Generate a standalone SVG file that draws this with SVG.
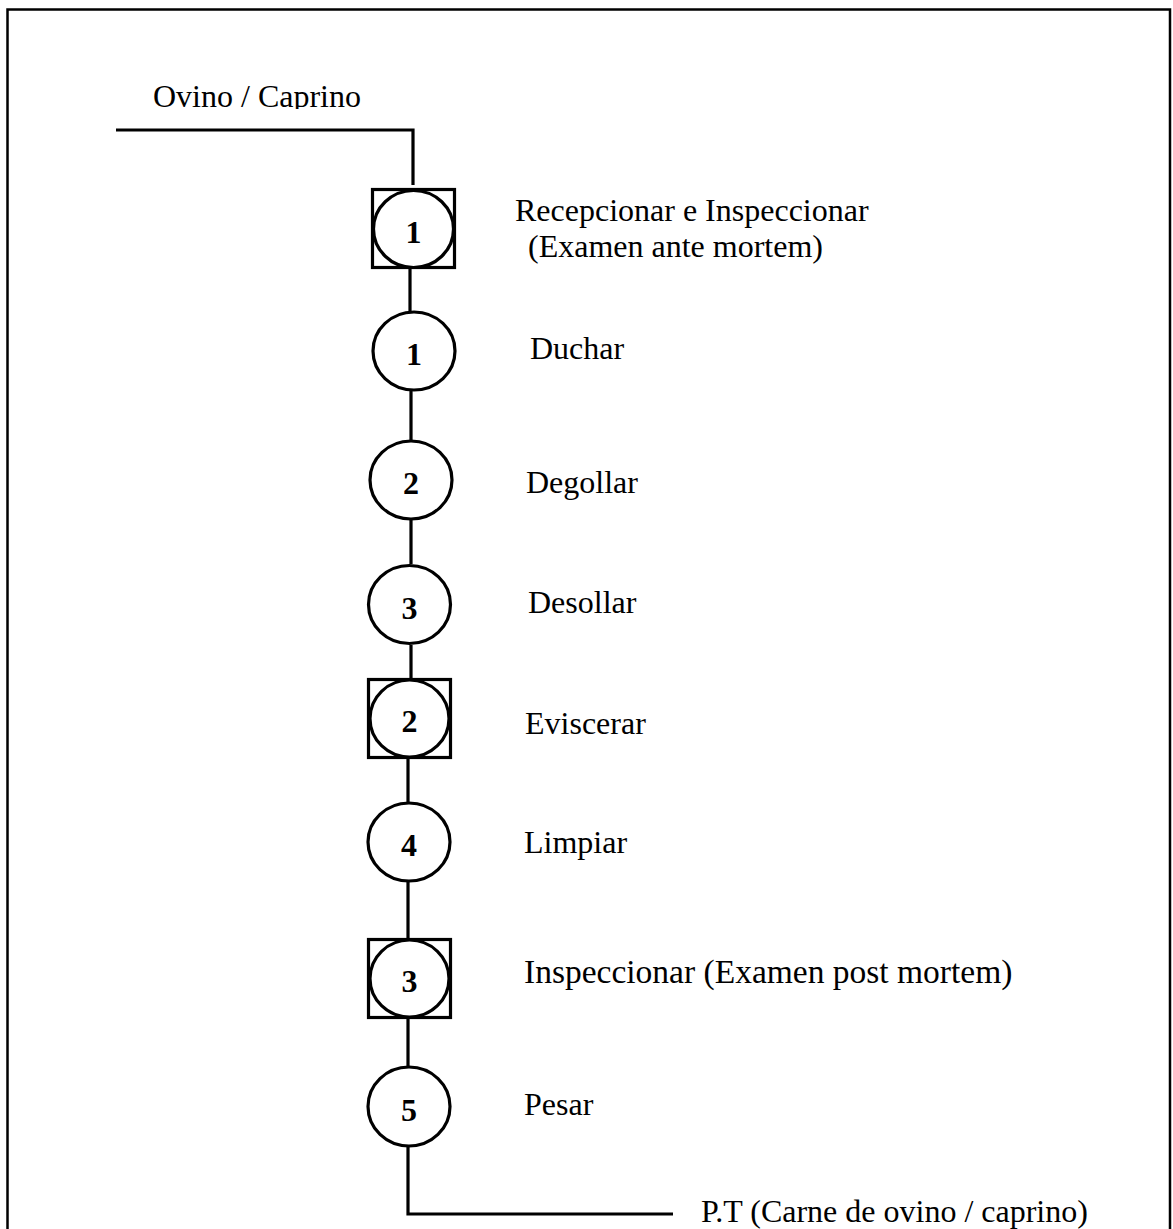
<svg xmlns="http://www.w3.org/2000/svg" width="1173" height="1229" viewBox="0 0 1173 1229">
<style>
  .lbl { font-family: "Liberation Serif", "Times New Roman", serif; font-size: 32px; fill: #000; }
  .num { font-family: "Liberation Serif", "Times New Roman", serif; font-size: 32px; font-weight: bold; fill: #000; text-anchor: middle; }
  .shape { fill: #fff; stroke: #000; stroke-width: 3.2; }
  .edge { fill: none; stroke: #000; stroke-width: 3.2; }
</style>
<defs>
  <clipPath id="clipTop"><rect x="0" y="0" width="1173" height="109"/></clipPath>
</defs>
<rect x="0" y="0" width="1173" height="1229" fill="#fff"/>
<path d="M7.5,1229 V9.5 H1170 V1229" fill="none" stroke="#000" stroke-width="2.5"/>

<g id="connectors">
  <path class="edge" d="M116,130 H413 V185"/>
  <path class="edge" d="M410,269 V311"/>
  <path class="edge" d="M411,391 V440"/>
  <path class="edge" d="M411,520 V564"/>
  <path class="edge" d="M411,645 V678"/>
  <path class="edge" d="M408,759 V802"/>
  <path class="edge" d="M408,882 V938"/>
  <path class="edge" d="M408,1019 V1066"/>
  <path class="edge" d="M408,1147 V1214 H673"/>
</g>

<g id="input-label">
  <text class="lbl" x="153" y="107" clip-path="url(#clipTop)">Ovino / Caprino</text>
</g>

<g id="node-insp1">
  <rect class="shape" x="372.5" y="189.5" width="82" height="78"/>
  <ellipse class="shape" cx="413.5" cy="229" rx="40" ry="38.5"/>
  <text class="num" x="413.5" y="243">1</text>
  <text class="lbl" x="515" y="221">Recepcionar e Inspeccionar</text>
  <text class="lbl" x="528" y="257">(Examen ante mortem)</text>
</g>

<g id="node-op1">
  <ellipse class="shape" cx="414" cy="351" rx="41" ry="39"/>
  <text class="num" x="414" y="365">1</text>
  <text class="lbl" x="530" y="359">Duchar</text>
</g>

<g id="node-op2">
  <ellipse class="shape" cx="411" cy="480" rx="41" ry="39"/>
  <text class="num" x="411" y="494">2</text>
  <text class="lbl" x="526" y="493">Degollar</text>
</g>

<g id="node-op3">
  <ellipse class="shape" cx="409.5" cy="604.5" rx="41" ry="39"/>
  <text class="num" x="409.5" y="619">3</text>
  <text class="lbl" x="528" y="613">Desollar</text>
</g>

<g id="node-insp2">
  <rect class="shape" x="368.5" y="679.5" width="82" height="78"/>
  <ellipse class="shape" cx="409.5" cy="718.5" rx="39.5" ry="38.5"/>
  <text class="num" x="409.5" y="732">2</text>
  <text class="lbl" x="525" y="734">Eviscerar</text>
</g>

<g id="node-op4">
  <ellipse class="shape" cx="409" cy="842" rx="41" ry="39"/>
  <text class="num" x="409" y="856">4</text>
  <text class="lbl" x="524" y="853">Limpiar</text>
</g>

<g id="node-insp3">
  <rect class="shape" x="368.5" y="939.5" width="82" height="78"/>
  <ellipse class="shape" cx="409.5" cy="978.5" rx="39.5" ry="38.5"/>
  <text class="num" x="409.5" y="992">3</text>
  <text class="lbl" x="524" y="983" style="font-size:33.5px">Inspeccionar (Examen post mortem)</text>
</g>

<g id="node-op5">
  <ellipse class="shape" cx="409" cy="1106.5" rx="41" ry="39.5"/>
  <text class="num" x="409" y="1121">5</text>
  <text class="lbl" x="524" y="1115">Pesar</text>
</g>

<g id="output-label">
  <text class="lbl" x="701" y="1222">P.T (Carne de ovino / caprino)</text>
</g>
</svg>
